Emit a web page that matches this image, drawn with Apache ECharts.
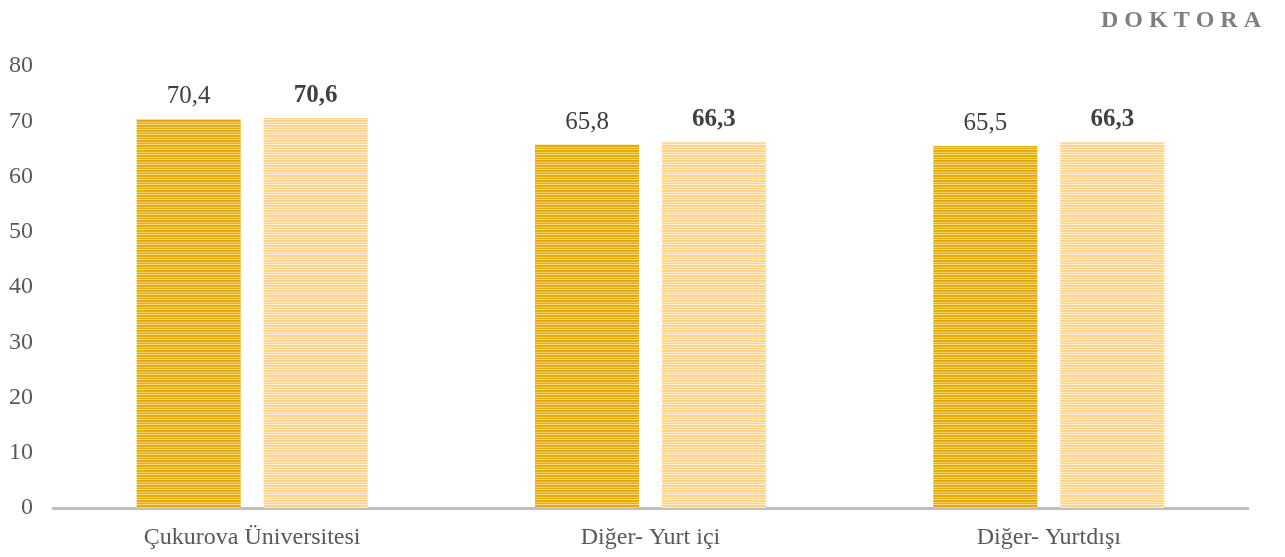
<!DOCTYPE html>
<html><head><meta charset="utf-8">
<script src="https://cdn.jsdelivr.net/npm/echarts@6/dist/echarts.min.js"></script>
<style>html,body{margin:0;padding:0;background:#fff}#c{width:1285px;height:557px}</style>
</head><body><div id="c"></div>
<script>
var categories = ['Çukurova Üniversitesi', 'Diğer- Yurt içi', 'Diğer- Yurtdışı'];
var series1 = [70.4, 65.8, 65.5];
var series2 = [70.6, 66.3, 66.3];
var yTicks = [0, 10, 20, 30, 40, 50, 60, 70, 80];
var title = 'D O K T O R A';

function stripe(rows) {
  var c = document.createElement('canvas');
  c.width = 4; c.height = rows.length;
  var ctx = c.getContext('2d');
  rows.forEach(function (col, i) { ctx.fillStyle = col; ctx.fillRect(0, i, 4, 1); });
  return c;
}
var p1 = stripe(['#E3A90A', '#E6AE12', '#F3CD55', '#E5AC10', '#F8DC7C']);
var p2 = stripe(['#FFD28A', '#FFD590', '#FFE8BE', '#FFD38C', '#FFEFD0']);

var chart = echarts.init(document.getElementById('c'));
var serif = '"Liberation Serif", "Times New Roman", serif';
chart.setOption({
  animation: false,
  title: {
    text: title, right: 19, top: 4,
    textStyle: { fontFamily: serif, fontWeight: 'bold', fontSize: 24, color: '#7F7F7F' }
  },
  grid: { left: 53, right: 37, top: 66, bottom: 49 },
  xAxis: {
    type: 'category', data: categories,
    axisLine: { lineStyle: { color: '#BFBFBF', width: 3 } },
    axisTick: { show: false },
    axisLabel: { fontFamily: serif, fontSize: 24, color: '#595959', margin: 18 }
  },
  yAxis: {
    type: 'value', min: 0, max: 80, interval: 10,
    axisLine: { show: false }, axisTick: { show: false }, splitLine: { show: false },
    axisLabel: { fontFamily: serif, fontSize: 24, color: '#595959', margin: 20,
      formatter: function (v) { return yTicks.indexOf(v) >= 0 ? String(v) : ''; } }
  },
  series: [
    { type: 'bar', data: series1, barGap: '22%', barCategoryGap: '42%',
      itemStyle: { color: { image: p1, repeat: 'repeat' } },
      label: { show: true, position: 'top', distance: 10, fontFamily: serif, fontSize: 25, color: '#404040',
        formatter: function (p) { return String(p.value).replace('.', ','); } } },
    { type: 'bar', data: series2,
      itemStyle: { color: { image: p2, repeat: 'repeat' } },
      label: { show: true, position: 'top', distance: 10, fontFamily: serif, fontSize: 25, fontWeight: 'bold', color: '#404040',
        formatter: function (p) { return String(p.value).replace('.', ','); } } }
  ]
});
</script></body></html>
